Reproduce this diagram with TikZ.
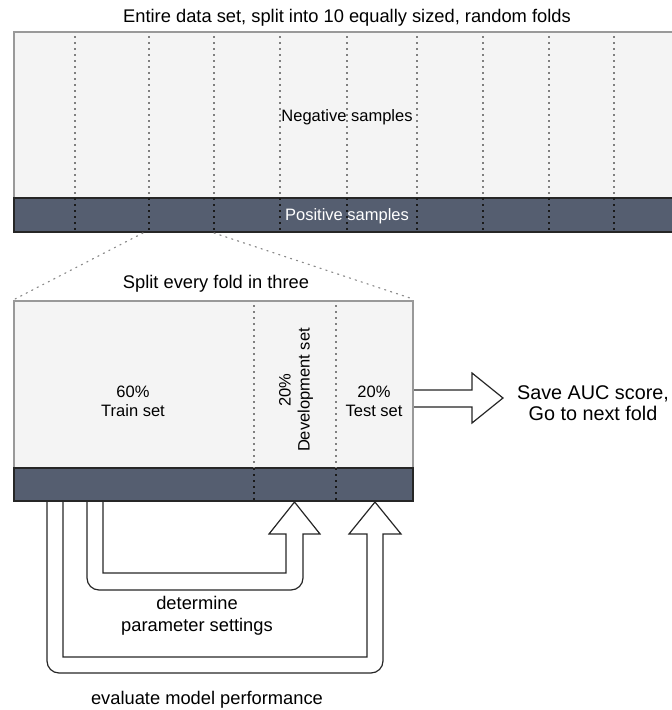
\documentclass[tikz,border=0pt]{standalone}
\usepackage{fontspec}
\setmainfont{Liberation Sans}
\definecolor{foldlight}{RGB}{244,244,244}
\definecolor{folddark}{RGB}{85,94,112}
\begin{document}
\begin{tikzpicture}[x=1pt,y=-1pt,
	lbl/.style={font=\fontsize{16.5}{19}\selectfont,align=center,inner sep=0pt},
	biglbl/.style={lbl,font=\fontsize{18.3}{22}\selectfont},
	negpart/.style={fill=foldlight,draw=black!40,line width=1.2pt},
	pospart/.style={fill=folddark,draw=black!85,line width=1.2pt},
	foldline/.style={draw=black!50,dash pattern=on 1.5pt off 4.5pt,line width=1.1pt},
	zoomline/.style={draw=black!45,dash pattern=on 1.2pt off 5pt,line width=1.2pt,line cap=round},
	hollow/.style={draw=black!85,fill=white,line width=1.2pt}]
	\useasboundingbox (0,0) rectangle (672,710);
	\clip (0,0) rectangle (672,710);
	% whole data set
	\node[biglbl] (title) at (347,18) {Entire data set, split into 10 equally sized, random folds};
	\draw[negpart] (14,32) rectangle (690,198);
	\draw[pospart] (14,198) rectangle (690,232);
	\foreach \x in {75,149,214,280,347,417,483,549,614}{
		\draw[foldline] (\x,36) -- (\x,198);
		\draw[foldline,draw=black!90] (\x,198) -- (\x,232);
	}
	\node[lbl] (neg) at (347,117) {Negative samples};
	\node[lbl,text=white] (pos) at (347,216) {Positive samples};
	% one fold
	\draw[zoomline] (143,233) -- (15,299);
	\draw[zoomline] (214,233) -- (413,299);
	\node[biglbl] (split) at (216,284) {Split every fold in three};
	\draw[negpart] (14,301) rectangle (413,468);
	\draw[pospart] (14,468) rectangle (413,501);
	\foreach \x in {254,336}{
		\draw[foldline] (\x,305) -- (\x,468);
		\draw[foldline,draw=black!90] (\x,468) -- (\x,501);
	}
	\node[lbl] (train) at (133,401) {60\%\\Train set};
	\node[lbl,rotate=90] (dev) at (296,390) {20\%\\Development set};
	\node[lbl] (test) at (374,401) {20\%\\Test set};
	% arrows
	\draw[hollow] (414,390) -- (472,390) -- (472,373) -- (503,398) -- (472,423) -- (472,407) -- (414,407);
	\node[lbl,font=\fontsize{19.8}{21}\selectfont] (save) at (593,403) {Save AUC score,\\Go to next fold};
	\draw[hollow,fill=none] (103,502) -- (103,573) -- (286,573) -- (286,534) -- (269,534) -- (294.5,502) -- (320,534) -- (303,534) -- (303,560)
		[rounded corners=12pt] -- (303,590) -- (87,590) -- (87,502);
	\draw[hollow,fill=none] (63,502) -- (63,657) -- (367,657) -- (367,534) -- (349,534) -- (375,502) -- (401,534) -- (383,534) -- (383,600)
		[rounded corners=12pt] -- (383,673) -- (47,673) -- (47,502);
	\node[biglbl] (param) at (197,616) {determine\\parameter settings};
	\node[biglbl] (eval) at (207,700) {evaluate model performance};
\end{tikzpicture}
\end{document}
